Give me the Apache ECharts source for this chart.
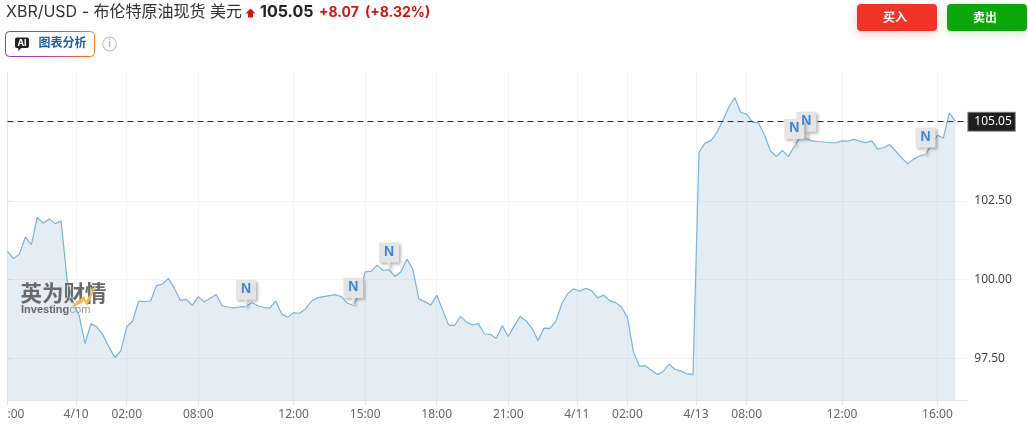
<!DOCTYPE html>
<html><head><meta charset="utf-8">
<style>html,body{margin:0;padding:0;background:#fff}#c{width:1028px;height:427px}</style>
<script src="https://cdn.jsdelivr.net/npm/echarts@6/dist/echarts.min.js"></script>
</head><body><div id="c"></div>
<script>
const prices = [
100.90,100.67,100.81,101.35,101.11,101.98,101.79,101.93,101.78,101.86,
99.98,99.30,98.87,97.97,98.60,98.50,98.24,97.87,97.52,97.73,
98.50,98.69,99.32,99.30,99.32,99.81,99.86,100.04,99.72,99.34,
99.37,99.18,99.46,99.29,99.41,99.53,99.17,99.13,99.10,99.13,
99.14,99.27,99.17,99.12,99.09,99.32,98.91,98.80,98.95,98.93,
99.07,99.32,99.42,99.46,99.49,99.52,
99.46,99.25,99.19,99.51,100.25,100.26,100.46,100.29,100.32,100.10,
100.25,100.65,100.33,99.39,99.30,99.19,99.50,99.03,98.56,98.54,
98.83,98.65,98.56,98.60,98.27,98.26,98.13,98.54,98.19,98.52,
98.83,98.69,98.45,98.06,98.46,98.45,98.68,99.24,99.56,99.71,
99.63,99.72,99.65,99.42,99.51,99.33,99.27,99.12,98.79,97.71,
97.25,97.26,97.12,96.98,97.08,97.31,97.15,97.09,97.00,96.99,
104.05,104.34,104.42,104.67,105.06,105.48,105.78,105.32,105.26,105.00,
104.98,104.59,104.09,103.91,104.11,103.91,104.25,104.53,104.48,104.41,
104.39,104.375,104.35,104.35,104.41,104.40,104.46,104.40,104.35,104.41,
104.15,104.20,104.29,104.08,103.88,103.68,103.83,103.93,103.98,104.27,
104.59,104.50,105.30,105.04];
const xTickSlots = [0,11.5,20,32,48,60,72,84,95.5,104,115.5,124,140,156];
const xTickLabels = [':00','4/10','02:00','08:00','12:00','15:00','18:00','21:00','4/11','02:00','4/13','08:00','12:00','16:00'];
const yTicks = [97.5,100,102.5,105];
const newsSlots = [40,58,64,134,132,154];
const lastPrice = 105.05;
const lastPriceLevel = 105.02;

const chart = echarts.init(document.getElementById('c'), null, {renderer:'canvas'});
const FONT = 'Inter, "Noto Sans CJK SC", sans-serif';
const AXF = '"Noto Sans", "Noto Sans CJK SC", sans-serif';

function txt(x,y,text,size,color,weight,family,align){
  return {type:'text',x:x,y:y,z:100,silent:true,style:{text:text,fontSize:size,fill:color,fontWeight:weight||'normal',fontFamily:family||FONT,textVerticalAlign:'middle',textAlign:align||'left'}};
}
const gradient = new echarts.graphic.LinearGradient(0,0,1,0,[{offset:0,color:'#7b3fe4'},{offset:0.5,color:'#d0408a'},{offset:1,color:'#ff7a1a'}]);

chart.setOption({
  animation:false,
  grid:{left:7.5,right:59.7,top:72,bottom:26.7,containLabel:false},
  xAxis:{type:'value',min:0,max:161.18,
    axisLine:{show:true,lineStyle:{color:'#e3e6ea'}},
    axisTick:{show:true,length:5,customValues:xTickSlots,lineStyle:{color:'#dfe3e8'}},
    axisLabel:{customValues:xTickSlots,color:'#666',fontSize:12,fontFamily:AXF,margin:8,alignMinLabel:'left',hideOverlap:false,showMinLabel:true,showMaxLabel:true,
      formatter:function(v){return xTickLabels[xTickSlots.indexOf(v)];}},
    splitLine:{show:true,lineStyle:{color:'#f3f4f6',width:1}}},
  yAxis:{type:'value',position:'right',min:96.163,max:106.6,
    axisLine:{show:true,lineStyle:{color:'#e3e6ea'}},
    axisTick:{show:true,length:5,customValues:yTicks,lineStyle:{color:'#e3e6ea'}},
    axisLabel:{customValues:yTicks,color:'#444',fontSize:12,fontFamily:AXF,margin:6,formatter:function(v){return v.toFixed(2);}},
    splitLine:{show:true,lineStyle:{color:'#f3f4f6',width:1}}},
  series:[{
    type:'line',data:prices.map(function(v,i){return [i,v];}),showSymbol:false,smooth:false,
    lineStyle:{color:'#7ab3dc',width:1.2},
    areaStyle:{color:'rgba(120,165,200,0.2)',opacity:1,origin:'start'},
    markLine:{silent:true,symbol:'none',animation:false,
      lineStyle:{color:'#333',type:[6,4],width:1},
      data:[{yAxis:lastPriceLevel}],
      label:{show:true,position:'end',distance:0,formatter:function(){return lastPrice.toFixed(2);},color:'#fff',backgroundColor:'#1e1e1e',borderColor:'#888',borderWidth:1,padding:[3,3,3,6],fontSize:12,fontFamily:AXF}},
    markPoint:{silent:true,animation:false,
      symbol:'path://M0 0H20V20H11V27H9V20H0Z',symbolSize:[20,27],symbolOffset:[0,'-50%'],
      itemStyle:{color:'#e5e5e5',shadowBlur:3,shadowOffsetX:2,shadowOffsetY:2,shadowColor:'rgba(0,0,0,0.28)'},
      label:{show:true,formatter:'N',color:'#3a87cf',fontWeight:'bold',fontSize:14,fontFamily:'"Liberation Sans", sans-serif',position:'inside',offset:[0,-4]},
      data:newsSlots.map(function(s){return {coord:[s,prices[s]]};})}
  }],
  graphic:[
    txt(6,12.5,'XBR/USD - 布伦特原油现货 美元',16,'#333'),
    {type:'polygon',z:100,silent:true,shape:{points:[[250.5,8.5],[255.5,13.5],[253,13.5],[253,17.5],[248,17.5],[248,13.5],[245.5,13.5]]},style:{fill:'#d5140f'}},
    txt(260,12.5,'105.05',16,'#222','bold'),
    txt(319,12.5,'+8.07',14,'#d5140f','bold'),
    txt(365,12.5,'(+8.32%)',14,'#d5140f','bold'),
    {type:'rect',z:100,silent:true,shape:{x:5.5,y:31.5,width:89,height:25,r:4},style:{fill:'#fff',stroke:gradient,lineWidth:1}},
    {type:'rect',z:101,silent:true,shape:{x:15,y:37.5,width:14,height:10.5,r:2},style:{fill:'#222'}},
    {type:'polygon',z:101,silent:true,shape:{points:[[18,47],[22,47],[18.5,51]]},style:{fill:'#222'}},
    {type:'text',x:22,y:43,z:102,silent:true,style:{text:'AI',fontSize:9,fontWeight:'bold',fill:'#fff',fontFamily:FONT,textAlign:'center',textVerticalAlign:'middle'}},
    txt(38.5,43.5,'图表分析',12,'#1e5f9e','bold'),
    {type:'circle',z:100,silent:true,shape:{cx:109.5,cy:44,r:6.8},style:{fill:'#fff',stroke:'#c8c8c8',lineWidth:1.2}},
    txt(109.5,44,'i',10,'#b5b5b5','bold',FONT,'center'),
    {type:'rect',z:100,silent:true,shape:{x:857,y:4,width:80,height:27,r:4},style:{fill:'#f03526',shadowBlur:8,shadowOffsetY:3,shadowColor:'rgba(240,53,38,0.25)'}},
    txt(895,18.5,'买入',12,'#fff','bold',FONT,'center'),
    {type:'rect',z:100,silent:true,shape:{x:947,y:4,width:80,height:27,r:4},style:{fill:'#0aa60a',shadowBlur:8,shadowOffsetY:3,shadowColor:'rgba(10,166,10,0.2)'}},
    txt(985,18.5,'卖出',12,'#fff','bold',FONT,'center'),
    txt(20.5,295,'英为财情',21.5,'#6a6a6a','bold'),
    {type:'polygon',z:101,silent:true,shape:{points:[[72,306],[84,296],[86,301],[95,286],[96,287],[87,306],[84,301],[76,306]]},style:{fill:'#f8b64c'}},
    txt(21,309.5,'Investing',11,'#666','bold','"Liberation Sans", sans-serif'),
    txt(66.5,310,'.com',11,'#999','normal','"Liberation Sans", sans-serif')
  ]
});
</script></body></html>
